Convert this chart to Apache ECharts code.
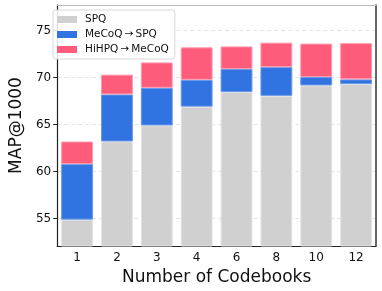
<!DOCTYPE html>
<html>
<head>
<meta charset="utf-8">
<script src="https://cdn.jsdelivr.net/npm/echarts@6/dist/echarts.min.js"></script>
<style>html,body{margin:0;padding:0;background:#fff}#c{width:382px;height:291px}</style>
</head>
<body>
<div id="c"></div>
<script>
const categories = ['1', '2', '3', '4', '6', '8', '10', '12'];
const spq = [54.9, 63.2, 64.9, 66.9, 68.45, 68.05, 69.15, 69.3];
const mecoq = [60.8, 68.2, 68.9, 69.75, 70.9, 71.1, 70.05, 69.8];
const hihpq = [63.2, 70.3, 71.6, 73.2, 73.3, 73.7, 73.6, 73.65];
const yTicks = [55, 60, 65, 70, 75];

const font = 'DejaVu Sans';
const diff = (a, b) => a.map((v, i) => +(v - b[i]).toFixed(3));

const chart = echarts.init(document.getElementById('c'));
chart.setOption({
  animation: false,
  grid: { left: 48, right: 6, top: 5, bottom: 45 },
  legend: {
    left: 53, top: 10, orient: 'vertical', icon: 'rect',
    itemWidth: 20, itemHeight: 7, itemGap: 4, padding: [4, 6, 4, 4],
    borderColor: '#d8d8d8', borderWidth: 1, borderRadius: 3,
    backgroundColor: 'rgba(255,255,255,0.85)',
    itemStyle: { borderWidth: 0 },
    textStyle: { fontFamily: font, fontSize: 10.5, color: '#111', padding: [0, 0, 0, 3] },
    data: ['SPQ', 'MeCoQ\u2009\u2192\u2009SPQ', 'HiHPQ\u2009\u2192\u2009MeCoQ']
  },
  xAxis: [{
    type: 'category', data: categories,
    name: 'Number of Codebooks', nameLocation: 'middle', nameGap: 20,
    nameTextStyle: { fontFamily: font, fontSize: 17, color: '#111' },
    axisLine: { lineStyle: { color: '#222', width: 1.2 } },
    axisTick: { alignWithLabel: true, length: 4, lineStyle: { color: '#222' } },
    axisLabel: { fontFamily: font, fontSize: 12, color: '#111', margin: 6 }
  }, {
    type: 'category', data: categories, position: 'top',
    axisLine: { lineStyle: { color: '#bbb', width: 1.2 } },
    axisTick: { show: false }, axisLabel: { show: false }
  }],
  yAxis: [{
    type: 'value', min: 52.1, max: 77.7,
    name: 'MAP@1000', nameLocation: 'middle', nameGap: 31,
    nameTextStyle: { fontFamily: font, fontSize: 17, color: '#111' },
    axisLine: { show: true, lineStyle: { color: '#222', width: 1.2 } },
    axisTick: { show: true, length: 4, lineStyle: { color: '#222' }, customValues: yTicks },
    axisLabel: { fontFamily: font, fontSize: 12, color: '#111', margin: 6, customValues: yTicks },
    splitLine: { show: true, lineStyle: { color: '#e4e4e4', type: [4, 3], width: 1 } }
  }, {
    type: 'value', min: 52.1, max: 77.7, position: 'right',
    axisLine: { show: true, lineStyle: { color: '#333', width: 1.5 } },
    axisTick: { show: false }, axisLabel: { show: false }, splitLine: { show: false }
  }],
  series: [
    {
      name: 'SPQ', type: 'bar', stack: 't', data: spq, barCategoryGap: '20%',
      itemStyle: { color: '#d0d0d0', borderColor: '#e4e4e4', borderWidth: 1 }
    },
    {
      name: 'MeCoQ\u2009\u2192\u2009SPQ', type: 'bar', stack: 't', data: diff(mecoq, spq),
      itemStyle: { color: '#3273e2', borderColor: '#6a9ae8', borderWidth: 1 }
    },
    {
      name: 'HiHPQ\u2009\u2192\u2009MeCoQ', type: 'bar', stack: 't', data: diff(hihpq, mecoq),
      itemStyle: { color: '#ff5c7c', borderColor: '#ff9aae', borderWidth: 1 }
    }
  ]
});
</script>
</body>
</html>
